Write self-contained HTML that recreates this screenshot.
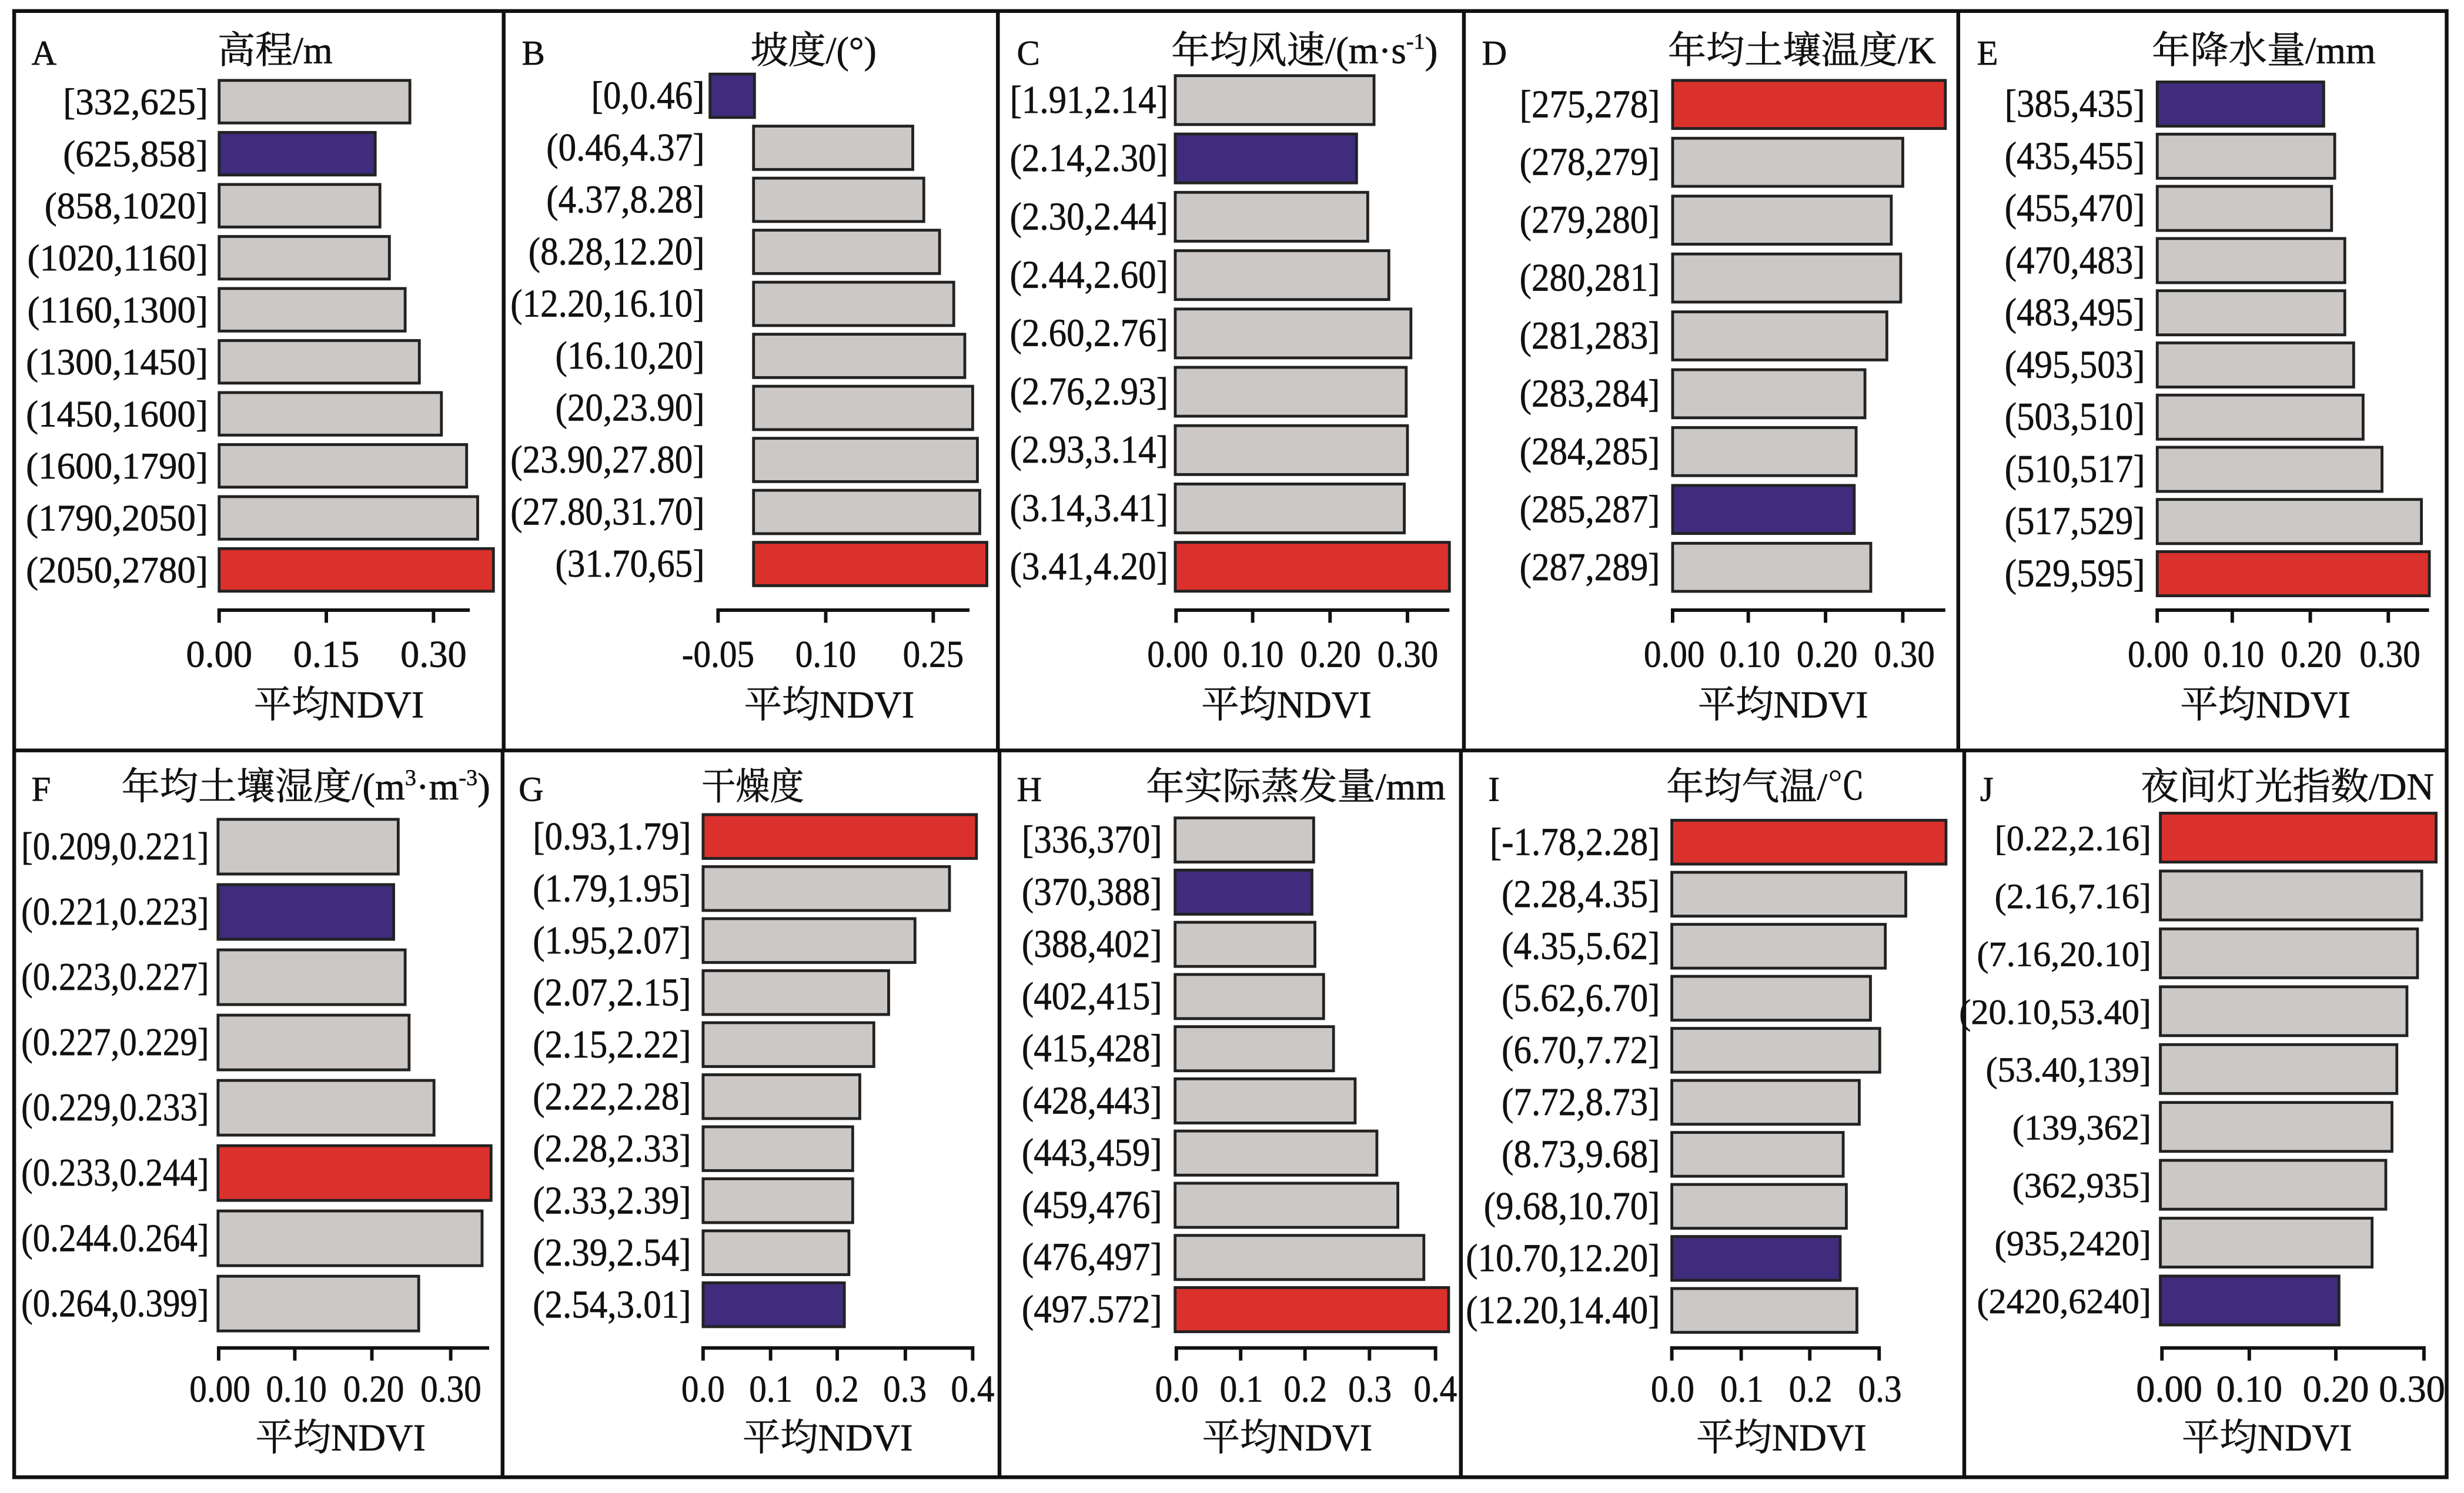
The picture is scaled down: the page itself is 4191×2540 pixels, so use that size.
<!DOCTYPE html>
<html><head><meta charset="utf-8"><style>
html,body{margin:0;padding:0;background:#fff}
svg{display:block}
text{font-family:"Liberation Serif","Noto Serif CJK SC","Noto Sans CJK SC",serif;fill:#111;stroke:#111;stroke-width:0.25}
.l{font-size:25px}
.ln{font-size:23.5px}
.t{font-size:24px}
.x{font-size:24px}
.p{font-size:22px}
.g rect{fill:#cbc8c6;stroke:#222;stroke-width:1.8}
rect.r{fill:#da312d}
rect.b{fill:#3f2c7c}
.ax{stroke:#111;stroke-width:2.2;fill:none}
</style></head><body>
<svg width="4191" height="2540" viewBox="0 0 1563 947" preserveAspectRatio="none" xmlns="http://www.w3.org/2000/svg">
<rect x="0" y="0" width="1563" height="947" fill="#fff"/>
<g stroke="#111" stroke-width="2.4" fill="none">
<rect x="9" y="7" width="1543" height="930"/>
<line x1="9" y1="476" x2="1552" y2="476"/>
<line x1="319.5" y1="7" x2="319.5" y2="476"/>
<line x1="633" y1="7" x2="633" y2="476"/>
<line x1="928.6" y1="7" x2="928.6" y2="476"/>
<line x1="1242.2" y1="7" x2="1242.2" y2="476"/>
<line x1="318.8" y1="476" x2="318.8" y2="937"/>
<line x1="634" y1="476" x2="634" y2="937"/>
<line x1="926.7" y1="476" x2="926.7" y2="937"/>
<line x1="1246" y1="476" x2="1246" y2="937"/>
</g>

<text class="p" x="20" y="41">A</text>
<text class="p" x="331" y="41">B</text>
<text class="p" x="645" y="41">C</text>
<text class="p" x="940" y="41">D</text>
<text class="p" x="1254" y="41">E</text>
<text class="p" x="20" y="508">F</text>
<text class="p" x="329" y="508">G</text>
<text class="p" x="645" y="508">H</text>
<text class="p" x="944" y="508">I</text>
<text class="p" x="1256" y="508">J</text>

<text class="t" x="138" y="40" textLength="73" lengthAdjust="spacingAndGlyphs">高程/m</text>
<text class="t" x="476" y="40" textLength="80" lengthAdjust="spacingAndGlyphs">坡度/(°)</text>
<text class="t" x="743" y="40" textLength="169" lengthAdjust="spacingAndGlyphs">年均风速/(m·s<tspan font-size="14" dy="-9">-1</tspan><tspan dy="9">)</tspan></text>
<text class="t" x="1058" y="40" textLength="170" lengthAdjust="spacingAndGlyphs">年均土壤温度/K</text>
<text class="t" x="1365" y="40" textLength="142" lengthAdjust="spacingAndGlyphs">年降水量/mm</text>
<text class="t" x="77" y="507" textLength="234" lengthAdjust="spacingAndGlyphs">年均土壤湿度/(m<tspan font-size="14" dy="-9">3</tspan><tspan dy="9">·m</tspan><tspan font-size="14" dy="-9">-3</tspan><tspan dy="9">)</tspan></text>
<text class="t" x="445" y="507" textLength="65" lengthAdjust="spacingAndGlyphs">干燥度</text>
<text class="t" x="727" y="507" textLength="190" lengthAdjust="spacingAndGlyphs">年实际蒸发量/mm</text>
<text class="t" x="1057" y="507" textLength="126" lengthAdjust="spacingAndGlyphs">年均气温/℃</text>
<text class="t" x="1358" y="507" textLength="186" lengthAdjust="spacingAndGlyphs">夜间灯光指数/DN</text>

<!-- A -->
<g class="g">
<rect x="139" y="51" width="121" height="27"/>
<rect class="b" x="139" y="84" width="99" height="27"/>
<rect x="139" y="117" width="102" height="27"/>
<rect x="139" y="150" width="108" height="27"/>
<rect x="139" y="183" width="118" height="27"/>
<rect x="139" y="216" width="127" height="27"/>
<rect x="139" y="249" width="141" height="27"/>
<rect x="139" y="282" width="157" height="27"/>
<rect x="139" y="315" width="164" height="27"/>
<rect class="r" x="139" y="348" width="174" height="27"/>
</g>
<g class="ln" text-anchor="end">
<text x="132" y="72.5">[332,625]</text>
<text x="132" y="105.5">(625,858]</text>
<text x="132" y="138.5">(858,1020]</text>
<text x="132" y="171.5">(1020,1160]</text>
<text x="132" y="204.5">(1160,1300]</text>
<text x="132" y="237.5">(1300,1450]</text>
<text x="132" y="270.5">(1450,1600]</text>
<text x="132" y="303.5">(1600,1790]</text>
<text x="132" y="336.5">(1790,2050]</text>
<text x="132" y="369.5">(2050,2780]</text>
</g>
<path class="ax" d="M139 395V387H298M207 387V395M275 387V395"/>
<g class="x" text-anchor="middle">
<text x="139" y="423">0.00</text><text x="207" y="423">0.15</text><text x="275" y="423">0.30</text>
</g>
<text class="x" x="215" y="455" text-anchor="middle">平均NDVI</text>

<!-- B -->
<g class="g">
<rect class="b" x="450.4" y="47" width="28.2" height="27.5"/>
<rect x="478" y="80" width="101" height="27.5"/>
<rect x="478" y="113" width="108" height="27.5"/>
<rect x="478" y="146" width="118" height="27.5"/>
<rect x="478" y="179" width="127" height="27.5"/>
<rect x="478" y="212" width="134" height="27.5"/>
<rect x="478" y="245" width="139" height="27.5"/>
<rect x="478" y="278" width="142" height="27.5"/>
<rect x="478" y="311" width="143.5" height="27.5"/>
<rect class="r" x="478" y="344" width="148" height="27.5"/>
</g>
<g class="l" text-anchor="end">
<text transform="translate(447,68.7) scale(.91,1)">[0,0.46]</text>
<text transform="translate(447,101.7) scale(.91,1)">(0.46,4.37]</text>
<text transform="translate(447,134.7) scale(.91,1)">(4.37,8.28]</text>
<text transform="translate(447,167.7) scale(.91,1)">(8.28,12.20]</text>
<text transform="translate(447,200.7) scale(.91,1)">(12.20,16.10]</text>
<text transform="translate(447,233.7) scale(.91,1)">(16.10,20]</text>
<text transform="translate(447,266.7) scale(.91,1)">(20,23.90]</text>
<text transform="translate(447,299.7) scale(.91,1)">(23.90,27.80]</text>
<text transform="translate(447,332.7) scale(.91,1)">(27.80,31.70]</text>
<text transform="translate(447,365.7) scale(.91,1)">(31.70,65]</text>
</g>
<path class="ax" d="M455.5 395V387H615M523.8 387V395M592 387V395"/>
<g class="x" text-anchor="middle">
<text transform="translate(455.5,423) scale(.92,1)">-0.05</text>
<text transform="translate(523.8,423) scale(.92,1)">0.10</text>
<text transform="translate(592,423) scale(.92,1)">0.25</text>
</g>
<text class="x" x="526" y="455" text-anchor="middle">平均NDVI</text>

<!-- C -->
<g class="g">
<rect x="745.5" y="48" width="126.1" height="31"/>
<rect class="b" x="745.5" y="85" width="115" height="31"/>
<rect x="745.5" y="122" width="122.1" height="31"/>
<rect x="745.5" y="159" width="135.5" height="31"/>
<rect x="745.5" y="196" width="149.5" height="31"/>
<rect x="745.5" y="233" width="146.5" height="31"/>
<rect x="745.5" y="270" width="147.3" height="31"/>
<rect x="745.5" y="307" width="145.3" height="31"/>
<rect class="r" x="745.5" y="344" width="173.9" height="31"/>
</g>
<g class="l" text-anchor="end">
<text transform="translate(741,71.5) scale(.91,1)">[1.91,2.14]</text>
<text transform="translate(741,108.5) scale(.91,1)">(2.14,2.30]</text>
<text transform="translate(741,145.5) scale(.91,1)">(2.30,2.44]</text>
<text transform="translate(741,182.5) scale(.91,1)">(2.44,2.60]</text>
<text transform="translate(741,219.5) scale(.91,1)">(2.60,2.76]</text>
<text transform="translate(741,256.5) scale(.91,1)">(2.76,2.93]</text>
<text transform="translate(741,293.5) scale(.91,1)">(2.93,3.14]</text>
<text transform="translate(741,330.5) scale(.91,1)">(3.14,3.41]</text>
<text transform="translate(741,367.5) scale(.91,1)">(3.41,4.20]</text>
</g>
<path class="ax" d="M746 395V387H919.4M794.6 387V395M843.7 387V395M892.8 387V395"/>
<g class="x" text-anchor="middle">
<text transform="translate(747,423) scale(.92,1)">0.00</text>
<text transform="translate(795,423) scale(.92,1)">0.10</text>
<text transform="translate(844,423) scale(.92,1)">0.20</text>
<text transform="translate(893,423) scale(.92,1)">0.30</text>
</g>
<text class="x" x="816" y="455" text-anchor="middle">平均NDVI</text>

<!-- D -->
<g class="g">
<rect class="r" x="1061" y="51" width="173" height="30.5"/>
<rect x="1061" y="87.7" width="146" height="30.5"/>
<rect x="1061" y="124.4" width="138.7" height="30.5"/>
<rect x="1061" y="161.1" width="144.7" height="30.5"/>
<rect x="1061" y="197.8" width="135.9" height="30.5"/>
<rect x="1061" y="234.5" width="122" height="30.5"/>
<rect x="1061" y="271.2" width="116.4" height="30.5"/>
<rect class="b" x="1061" y="307.9" width="115.2" height="30.5"/>
<rect x="1061" y="344.6" width="125.7" height="30.5"/>
</g>
<g class="l" text-anchor="end">
<text transform="translate(1053,74.3) scale(.91,1)">[275,278]</text>
<text transform="translate(1053,111) scale(.91,1)">(278,279]</text>
<text transform="translate(1053,147.7) scale(.91,1)">(279,280]</text>
<text transform="translate(1053,184.4) scale(.91,1)">(280,281]</text>
<text transform="translate(1053,221.1) scale(.91,1)">(281,283]</text>
<text transform="translate(1053,257.8) scale(.91,1)">(283,284]</text>
<text transform="translate(1053,294.5) scale(.91,1)">(284,285]</text>
<text transform="translate(1053,331.2) scale(.91,1)">(285,287]</text>
<text transform="translate(1053,367.9) scale(.91,1)">(287,289]</text>
</g>
<path class="ax" d="M1061 395V387H1234M1109 387V395M1158 387V395M1207 387V395"/>
<g class="x" text-anchor="middle">
<text transform="translate(1062,423) scale(.92,1)">0.00</text>
<text transform="translate(1110,423) scale(.92,1)">0.10</text>
<text transform="translate(1159,423) scale(.92,1)">0.20</text>
<text transform="translate(1208,423) scale(.92,1)">0.30</text>
</g>
<text class="x" x="1131" y="455" text-anchor="middle">平均NDVI</text>

<!-- E -->
<g class="g">
<rect class="b" x="1368.4" y="52" width="105.6" height="28"/>
<rect x="1368.4" y="85.1" width="112.6" height="28"/>
<rect x="1368.4" y="118.2" width="110.6" height="28"/>
<rect x="1368.4" y="151.3" width="119" height="28"/>
<rect x="1368.4" y="184.4" width="119" height="28"/>
<rect x="1368.4" y="217.5" width="124.6" height="28"/>
<rect x="1368.4" y="250.6" width="130.6" height="28"/>
<rect x="1368.4" y="283.7" width="142.6" height="28"/>
<rect x="1368.4" y="316.8" width="167.6" height="28"/>
<rect class="r" x="1368.4" y="349.9" width="172.6" height="28"/>
</g>
<g class="l" text-anchor="end">
<text transform="translate(1360.7,74) scale(.91,1)">[385,435]</text>
<text transform="translate(1360.7,107.1) scale(.91,1)">(435,455]</text>
<text transform="translate(1360.7,140.2) scale(.91,1)">(455,470]</text>
<text transform="translate(1360.7,173.3) scale(.91,1)">(470,483]</text>
<text transform="translate(1360.7,206.4) scale(.91,1)">(483,495]</text>
<text transform="translate(1360.7,239.5) scale(.91,1)">(495,503]</text>
<text transform="translate(1360.7,272.6) scale(.91,1)">(503,510]</text>
<text transform="translate(1360.7,305.7) scale(.91,1)">(510,517]</text>
<text transform="translate(1360.7,338.8) scale(.91,1)">(517,529]</text>
<text transform="translate(1360.7,371.9) scale(.91,1)">(529,595]</text>
</g>
<path class="ax" d="M1368.4 395V387H1540.8M1416 387V395M1465.5 387V395M1515 387V395"/>
<g class="x" text-anchor="middle">
<text transform="translate(1369,423) scale(.92,1)">0.00</text>
<text transform="translate(1417,423) scale(.92,1)">0.10</text>
<text transform="translate(1466,423) scale(.92,1)">0.20</text>
<text transform="translate(1516,423) scale(.92,1)">0.30</text>
</g>
<text class="x" x="1437" y="455" text-anchor="middle">平均NDVI</text>

<!-- F -->
<g class="g">
<rect x="138.3" y="519.7" width="114.3" height="34.7"/>
<rect class="b" x="138.3" y="561.1" width="111.4" height="34.7"/>
<rect x="138.3" y="602.5" width="118.7" height="34.7"/>
<rect x="138.3" y="643.9" width="121.2" height="34.7"/>
<rect x="138.3" y="685.3" width="137" height="34.7"/>
<rect class="r" x="138.3" y="726.7" width="173.2" height="34.7"/>
<rect x="138.3" y="768.1" width="167.5" height="34.7"/>
<rect x="138.3" y="809.5" width="127.3" height="34.7"/>
</g>
<g class="l" text-anchor="end">
<text transform="translate(132.6,545.1) scale(.88,1)">[0.209,0.221]</text>
<text transform="translate(132.6,586.5) scale(.88,1)">(0.221,0.223]</text>
<text transform="translate(132.6,627.9) scale(.88,1)">(0.223,0.227]</text>
<text transform="translate(132.6,669.3) scale(.88,1)">(0.227,0.229]</text>
<text transform="translate(132.6,710.7) scale(.88,1)">(0.229,0.233]</text>
<text transform="translate(132.6,752.1) scale(.88,1)">(0.233,0.244]</text>
<text transform="translate(132.6,793.5) scale(.88,1)">(0.244.0.264]</text>
<text transform="translate(132.6,834.9) scale(.88,1)">(0.264,0.399]</text>
</g>
<path class="ax" d="M138.7 863V855H310.3M187 855V863M235.9 855V863M285.9 855V863"/>
<g class="x" text-anchor="middle">
<text transform="translate(139.5,889) scale(.92,1)">0.00</text>
<text transform="translate(188,889) scale(.92,1)">0.10</text>
<text transform="translate(237,889) scale(.92,1)">0.20</text>
<text transform="translate(286,889) scale(.92,1)">0.30</text>
</g>
<text class="x" x="216" y="920" text-anchor="middle">平均NDVI</text>

<!-- G -->
<g class="g">
<rect class="r" x="446" y="516.7" width="173.4" height="27.8"/>
<rect x="446" y="549.7" width="156.3" height="27.8"/>
<rect x="446" y="582.7" width="134.4" height="27.8"/>
<rect x="446" y="615.7" width="117.7" height="27.8"/>
<rect x="446" y="648.7" width="108.3" height="27.8"/>
<rect x="446" y="681.7" width="99.4" height="27.8"/>
<rect x="446" y="714.7" width="94.9" height="27.8"/>
<rect x="446" y="747.7" width="94.9" height="27.8"/>
<rect x="446" y="780.7" width="92.5" height="27.8"/>
<rect class="b" x="446" y="813.7" width="89.6" height="27.8"/>
</g>
<g class="l" text-anchor="end">
<text transform="translate(438.4,538.7) scale(.91,1)">[0.93,1.79]</text>
<text transform="translate(438.4,571.7) scale(.91,1)">(1.79,1.95]</text>
<text transform="translate(438.4,604.7) scale(.91,1)">(1.95,2.07]</text>
<text transform="translate(438.4,637.7) scale(.91,1)">(2.07,2.15]</text>
<text transform="translate(438.4,670.7) scale(.91,1)">(2.15,2.22]</text>
<text transform="translate(438.4,703.7) scale(.91,1)">(2.22,2.28]</text>
<text transform="translate(438.4,736.7) scale(.91,1)">(2.28,2.33]</text>
<text transform="translate(438.4,769.7) scale(.91,1)">(2.33,2.39]</text>
<text transform="translate(438.4,802.7) scale(.91,1)">(2.39,2.54]</text>
<text transform="translate(438.4,835.7) scale(.91,1)">(2.54,3.01]</text>
</g>
<path class="ax" d="M446 863V855H617V863M488.8 855V863M531.1 855V863M574.3 855V863"/>
<g class="x" text-anchor="middle">
<text transform="translate(446,889) scale(.92,1)">0.0</text>
<text transform="translate(489,889) scale(.92,1)">0.1</text>
<text transform="translate(531,889) scale(.92,1)">0.2</text>
<text transform="translate(574,889) scale(.92,1)">0.3</text>
<text transform="translate(617,889) scale(.92,1)">0.4</text>
</g>
<text class="x" x="525" y="920" text-anchor="middle">平均NDVI</text>

<!-- H -->
<g class="g">
<rect x="745.4" y="518.8" width="87.9" height="28"/>
<rect class="b" x="745.4" y="551.9" width="86.8" height="28"/>
<rect x="745.4" y="585" width="88.7" height="28"/>
<rect x="745.4" y="618.1" width="94.2" height="28"/>
<rect x="745.4" y="651.2" width="100.5" height="28"/>
<rect x="745.4" y="684.3" width="114.2" height="28"/>
<rect x="745.4" y="717.4" width="128" height="28"/>
<rect x="745.4" y="750.5" width="141.3" height="28"/>
<rect x="745.4" y="783.6" width="157.8" height="28"/>
<rect class="r" x="745.4" y="816.7" width="173.5" height="28"/>
</g>
<g class="l" text-anchor="end">
<text transform="translate(737.2,540.8) scale(.91,1)">[336,370]</text>
<text transform="translate(737.2,573.9) scale(.91,1)">(370,388]</text>
<text transform="translate(737.2,607) scale(.91,1)">(388,402]</text>
<text transform="translate(737.2,640.1) scale(.91,1)">(402,415]</text>
<text transform="translate(737.2,673.2) scale(.91,1)">(415,428]</text>
<text transform="translate(737.2,706.3) scale(.91,1)">(428,443]</text>
<text transform="translate(737.2,739.4) scale(.91,1)">(443,459]</text>
<text transform="translate(737.2,772.5) scale(.91,1)">(459,476]</text>
<text transform="translate(737.2,805.6) scale(.91,1)">(476,497]</text>
<text transform="translate(737.2,838.7) scale(.91,1)">(497.572]</text>
</g>
<path class="ax" d="M746.2 863V855H910.6V863M787 855V863M827.8 855V863M868.7 855V863"/>
<g class="x" text-anchor="middle">
<text transform="translate(746.5,889) scale(.92,1)">0.0</text>
<text transform="translate(787.5,889) scale(.92,1)">0.1</text>
<text transform="translate(828,889) scale(.92,1)">0.2</text>
<text transform="translate(869,889) scale(.92,1)">0.3</text>
<text transform="translate(910.5,889) scale(.92,1)">0.4</text>
</g>
<text class="x" x="816.5" y="920" text-anchor="middle">平均NDVI</text>

<!-- I -->
<g class="g">
<rect class="r" x="1060.5" y="520.3" width="173.9" height="27.8"/>
<rect x="1060.5" y="553.3" width="148.4" height="27.8"/>
<rect x="1060.5" y="586.3" width="135.4" height="27.8"/>
<rect x="1060.5" y="619.3" width="126" height="27.8"/>
<rect x="1060.5" y="652.3" width="131.9" height="27.8"/>
<rect x="1060.5" y="685.3" width="118.9" height="27.8"/>
<rect x="1060.5" y="718.3" width="108.7" height="27.8"/>
<rect x="1060.5" y="751.3" width="110.7" height="27.8"/>
<rect class="b" x="1060.5" y="784.3" width="106.8" height="27.8"/>
<rect x="1060.5" y="817.3" width="117.4" height="27.8"/>
</g>
<g class="l" text-anchor="end">
<text transform="translate(1053,542.3) scale(.91,1)">[-1.78,2.28]</text>
<text transform="translate(1053,575.3) scale(.91,1)">(2.28,4.35]</text>
<text transform="translate(1053,608.3) scale(.91,1)">(4.35,5.62]</text>
<text transform="translate(1053,641.3) scale(.91,1)">(5.62,6.70]</text>
<text transform="translate(1053,674.3) scale(.91,1)">(6.70,7.72]</text>
<text transform="translate(1053,707.3) scale(.91,1)">(7.72,8.73]</text>
<text transform="translate(1053,740.3) scale(.91,1)">(8.73,9.68]</text>
<text transform="translate(1053,773.3) scale(.91,1)">(9.68,10.70]</text>
<text transform="translate(1053,806.3) scale(.91,1)">(10.70,12.20]</text>
<text transform="translate(1053,839.3) scale(.91,1)">(12.20,14.40]</text>
</g>
<path class="ax" d="M1060.5 863V855H1192V863M1104.5 855V863M1148 855V863"/>
<g class="x" text-anchor="middle">
<text transform="translate(1061,889) scale(.92,1)">0.0</text>
<text transform="translate(1105,889) scale(.92,1)">0.1</text>
<text transform="translate(1148.5,889) scale(.92,1)">0.2</text>
<text transform="translate(1192.5,889) scale(.92,1)">0.3</text>
</g>
<text class="x" x="1130" y="920" text-anchor="middle">平均NDVI</text>

<!-- J -->
<g class="g">
<rect class="r" x="1370.4" y="515.8" width="174.9" height="31"/>
<rect x="1370.4" y="552.5" width="165.8" height="31"/>
<rect x="1370.4" y="589.2" width="163.1" height="31"/>
<rect x="1370.4" y="625.9" width="156.4" height="31"/>
<rect x="1370.4" y="662.6" width="150" height="31"/>
<rect x="1370.4" y="699.3" width="146.9" height="31"/>
<rect x="1370.4" y="736" width="143" height="31"/>
<rect x="1370.4" y="772.7" width="134.3" height="31"/>
<rect class="b" x="1370.4" y="809.4" width="113.3" height="31"/>
</g>
<g style="font-size:22.5px" text-anchor="end">
<text x="1364.6" y="539.3">[0.22,2.16]</text>
<text x="1364.6" y="576">(2.16,7.16]</text>
<text x="1364.6" y="612.7">(7.16,20.10]</text>
<text x="1364.6" y="649.4">(20.10,53.40]</text>
<text x="1364.6" y="686.1">(53.40,139]</text>
<text x="1364.6" y="722.8">(139,362]</text>
<text x="1364.6" y="759.5">(362,935]</text>
<text x="1364.6" y="796.2">(935,2420]</text>
<text x="1364.6" y="832.9">(2420,6240]</text>
</g>
<path class="ax" d="M1371.4 863V855H1537.6V863M1426.8 855V863M1481.7 855V863"/>
<g class="x" text-anchor="middle">
<text x="1376" y="889">0.00</text>
<text x="1426.8" y="889">0.10</text>
<text x="1481.7" y="889">0.20</text>
<text x="1530" y="889">0.30</text>
</g>
<text class="x" x="1438" y="920" text-anchor="middle">平均NDVI</text>
</svg>
</body></html>
